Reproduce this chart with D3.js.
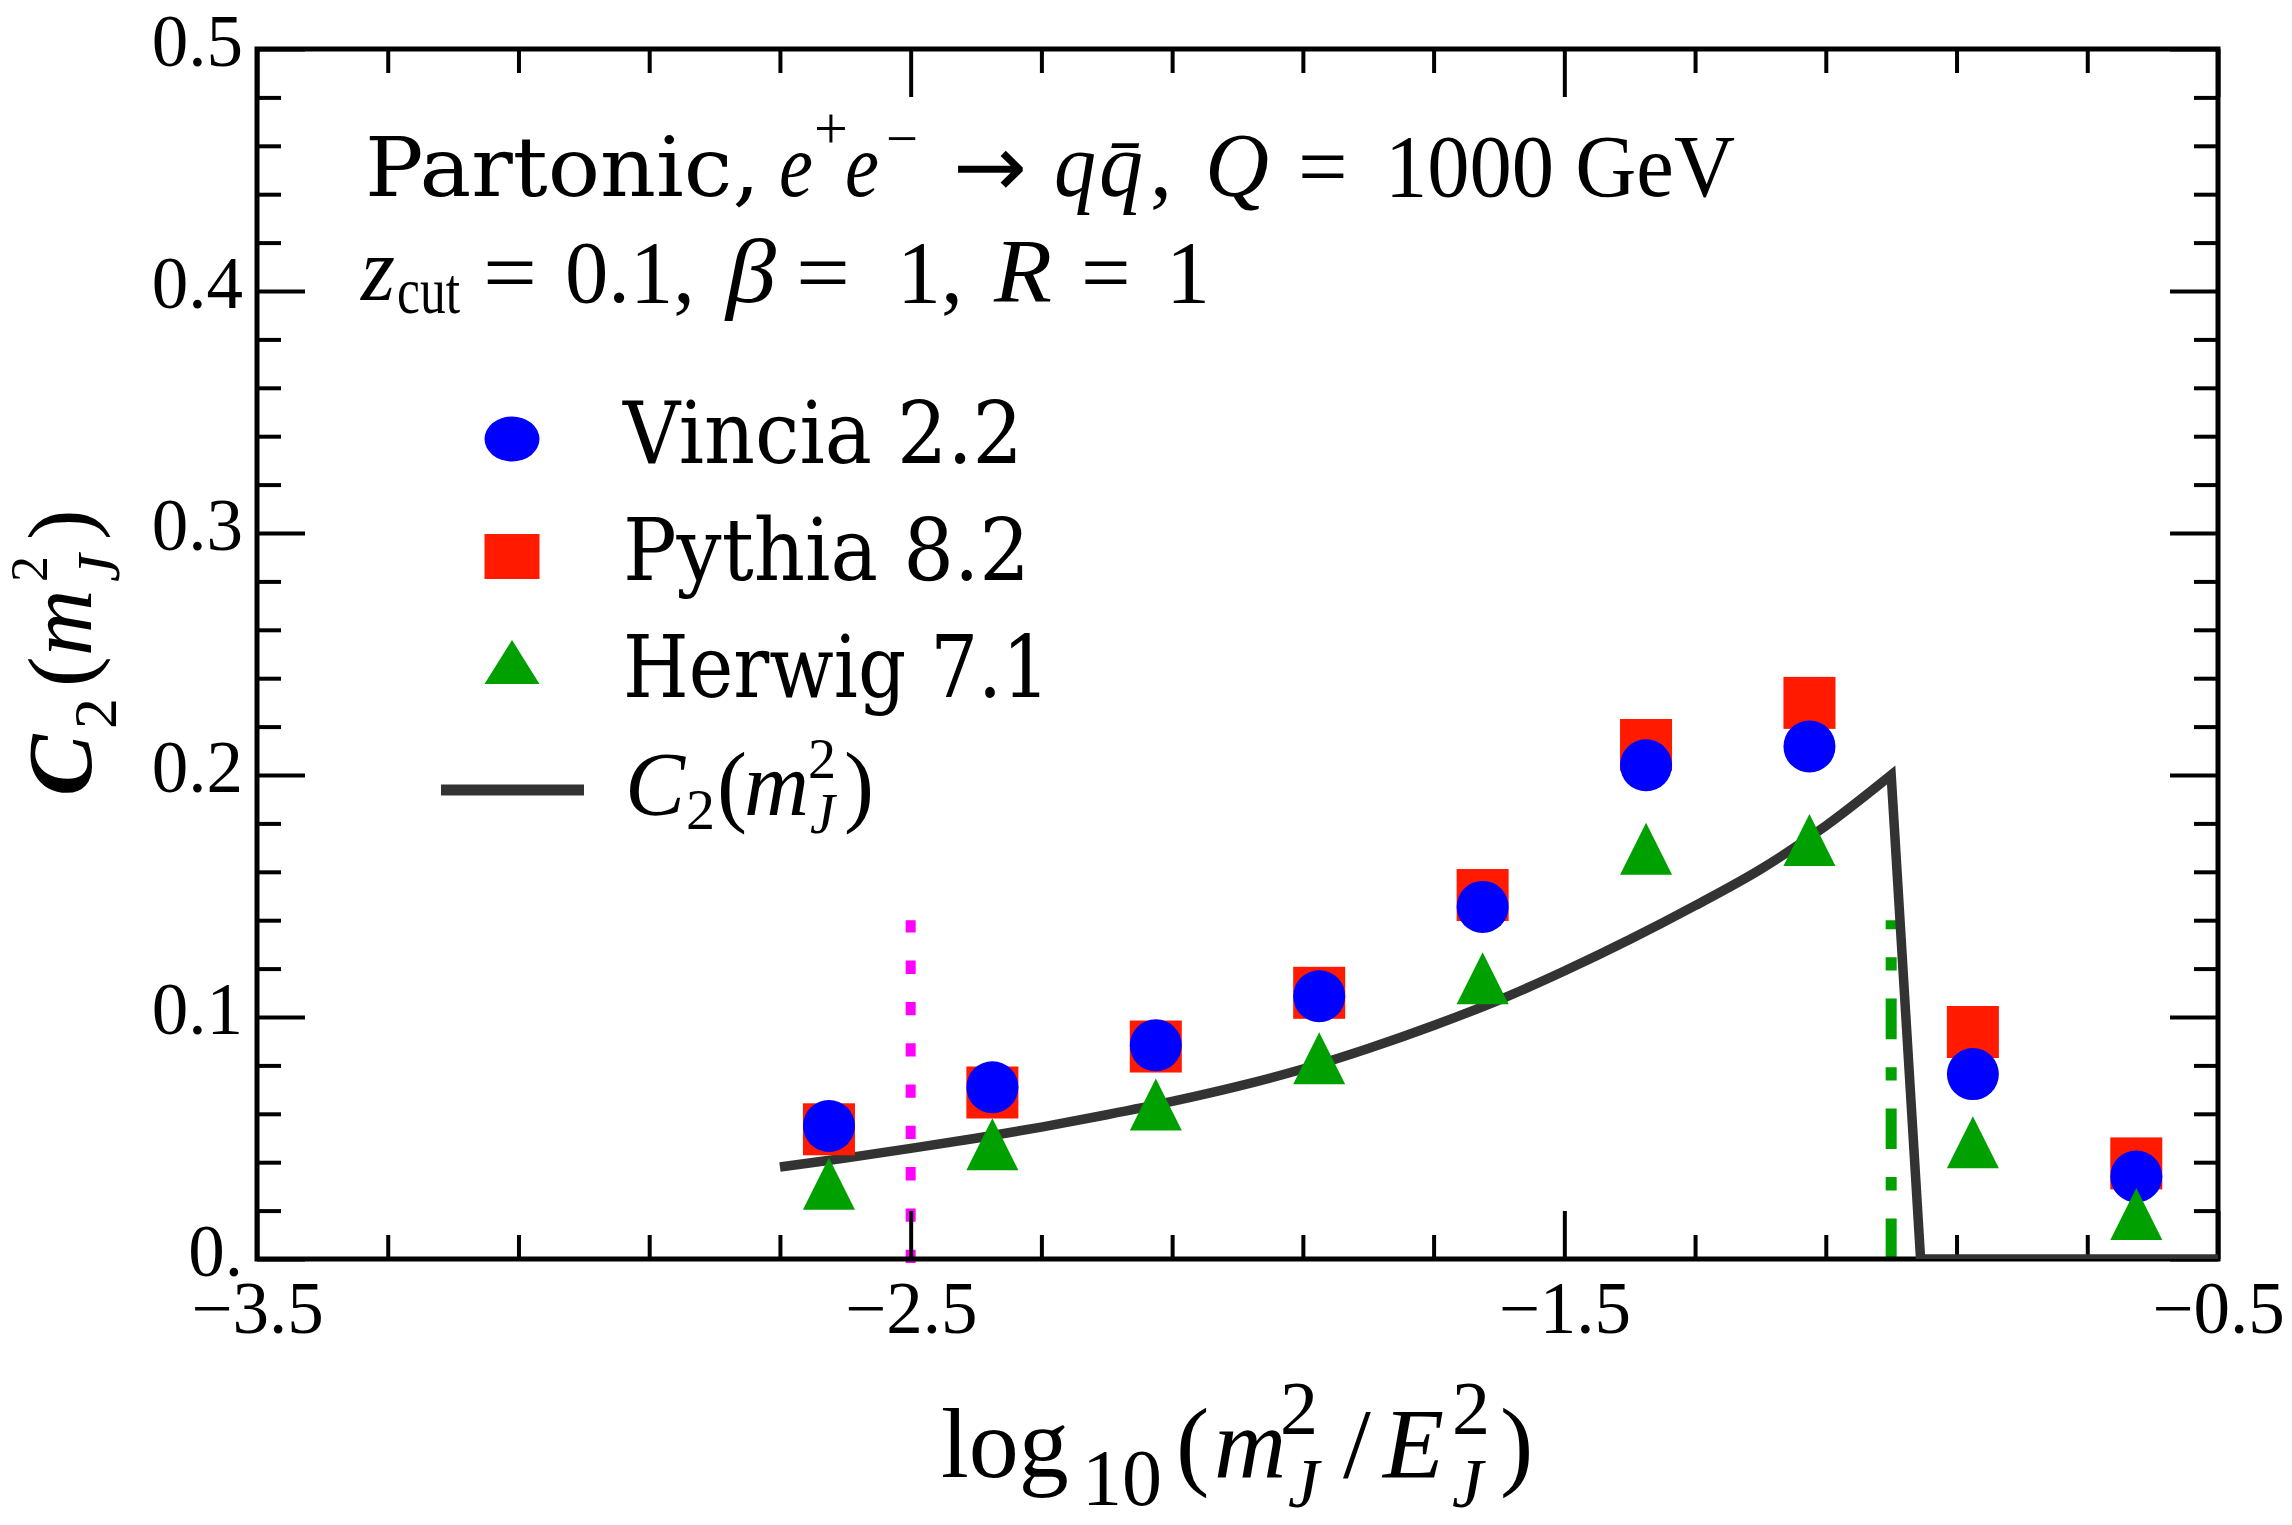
<!DOCTYPE html>
<html>
<head>
<meta charset="utf-8">
<script src="https://cdn.jsdelivr.net/npm/d3@7"></script>
<style>
  body { margin: 0; background: #fff; }
  svg text { font-family: "Liberation Serif", "Times New Roman", serif; fill: #000; }
</style>
</head>
<body>
<div id="chart"></div>
<script>
// bin centres of log10(m_J^2/E_J^2)
const binCenters = [-2.625, -2.375, -2.125, -1.875, -1.625, -1.375, -1.125, -0.875, -0.625];
const vincia = [0.0550, 0.0710, 0.0883, 0.1086, 0.1455, 0.2040, 0.2118, 0.0764, 0.0341];
const pythia = [0.0536, 0.0688, 0.0878, 0.1100, 0.1504, 0.2124, 0.2298, 0.0938, 0.0395];
const herwig = [0.0311, 0.0474, 0.0638, 0.0830, 0.1160, 0.1695, 0.1731, 0.0482, 0.0186];

// analytic C2 curve (rising part, then the drop to zero)
const curveX = [-2.7, -2.6, -2.5, -2.4, -2.3, -2.2, -2.1, -2.0, -1.9, -1.8, -1.7, -1.6,
                -1.5, -1.4, -1.3, -1.2, -1.1, -1.0];
const curveY = [0.038, 0.0417, 0.0457, 0.0499, 0.0545, 0.0596, 0.0651, 0.0713, 0.0785, 0.0870, 0.0965, 0.1070,
                0.119, 0.132, 0.146, 0.161, 0.179, 0.200];
const dropX = [-1.0, -0.955, -0.5];
const dropY = [0.200, 0.0, 0.0];

// vertical reference lines
const refX = [-2.5, -1.0];
const refTop = [0.14, 0.14];

const xMajor = [-3.5, -2.5, -1.5, -0.5];
const xMajorLabels = ["\u22123.5", "\u22122.5", "\u22121.5", "\u22120.5"];
const xMinor = [-3.3, -3.1, -2.9, -2.7, -2.3, -2.1, -1.9, -1.7, -1.3, -1.1, -0.9, -0.7];
const yMajor = [0, 0.1, 0.2, 0.3, 0.4, 0.5];
const yMajorLabels = ["0.", "0.1", "0.2", "0.3", "0.4", "0.5"];
const yMinor = [0.02, 0.04, 0.06, 0.08, 0.12, 0.14, 0.16, 0.18, 0.22, 0.24, 0.26, 0.28,
                0.32, 0.34, 0.36, 0.38, 0.42, 0.44, 0.46, 0.48];

const legendNames = ["Vincia 2.2", "Pythia 8.2", "Herwig 7.1"];

const W = 2292, H = 1525;
const pL = 257, pR = 2218, pT = 49, pB = 1259;
const BLUE = "#0000ff", RED = "#ff1a00", GREEN = "#00a000", MAGENTA = "#ff00ff", CURVE = "#333333";

const svg = d3.select("#chart").append("svg")
    .attr("width", W).attr("height", H)
    .style("display", "block");
svg.append("rect").attr("width", W).attr("height", H).attr("fill", "#fff");

const x = d3.scaleLinear().domain([-3.5, -0.5]).range([pL, pR]);
const y = d3.scaleLinear().domain([0, 0.5]).range([pB, pT]);

// reference lines (drawn first, ticks go over them)
svg.append("line")
    .attr("x1", x(refX[0])).attr("x2", x(refX[0]))
    .attr("y1", y(0) + 4).attr("y2", y(refTop[0]))
    .attr("stroke", MAGENTA).attr("stroke-width", 10)
    .attr("stroke-dasharray", "13.3,28");
svg.append("line")
    .attr("x1", x(refX[1])).attr("x2", x(refX[1]))
    .attr("y1", y(0)).attr("y2", y(refTop[1]))
    .attr("stroke", GREEN).attr("stroke-width", 11)
    .attr("stroke-dasharray", "40.6,28,13.3,28");

// axes, all four sides with inward ticks
function styleAxis(g) {
    g.select(".domain").remove();
    g.selectAll(".tick line").attr("stroke", "#000").attr("stroke-width", 4);
    g.selectAll("text").style("font-family", "'Liberation Serif', 'Times New Roman', serif")
        .style("font-size", "73px").attr("fill", "#000");
}
function addAxis(axisFn, scale, values, labels, size, transform, padding) {
    const ax = axisFn(scale).tickValues(values).tickSize(-size).tickPadding(padding || 0)
        .tickFormat(labels ? ((d, i) => labels[i]) : () => "");
    const g = svg.append("g").attr("transform", transform).call(ax);
    styleAxis(g);
    return g;
}
addAxis(d3.axisBottom, x, xMajor, xMajorLabels, 48, `translate(0,${pB})`, 22);
addAxis(d3.axisBottom, x, xMinor, null, 24, `translate(0,${pB})`);
addAxis(d3.axisTop, x, xMajor, null, 48, `translate(0,${pT})`);
addAxis(d3.axisTop, x, xMinor, null, 24, `translate(0,${pT})`);
const gy = addAxis(d3.axisLeft, y, yMajor, yMajorLabels, 48, `translate(${pL},0)`, 14);
addAxis(d3.axisLeft, y, yMinor, null, 24, `translate(${pL},0)`);
addAxis(d3.axisRight, y, yMajor, null, 48, `translate(${pR},0)`);
addAxis(d3.axisRight, y, yMinor, null, 24, `translate(${pR},0)`);
gy.selectAll("text").attr("dy", "0.23em");

svg.append("rect")
    .attr("x", pL).attr("y", pT)
    .attr("width", pR - pL).attr("height", pB - pT)
    .attr("fill", "none").attr("stroke", "#000").attr("stroke-width", 5);

// curve, clipped to plot region: smooth rise + straight drop in one path
svg.append("clipPath").attr("id", "plotclip").append("rect")
    .attr("x", pL).attr("y", pT).attr("width", pR - pL).attr("height", pB - pT);
const riseLine = d3.line().curve(d3.curveCatmullRom.alpha(0.5)).x(d => x(d[0])).y(d => y(d[1]));
const dropLine = d3.line().x(d => x(d[0])).y(d => y(d[1]));
const curvePath = riseLine(d3.zip(curveX, curveY)) +
    dropLine(d3.zip(dropX, dropY).slice(1)).replace(/^M/, "L");
svg.append("path")
    .attr("clip-path", "url(#plotclip)")
    .attr("d", curvePath)
    .attr("fill", "none").attr("stroke", CURVE).attr("stroke-width", 9.5)
    .attr("stroke-linejoin", "miter").attr("stroke-miterlimit", 20);

// markers: squares, then circles, then triangles
const M = 52;
const tri = (cx, cy, w, h) => `M${cx},${cy - h / 2}L${cx + w / 2},${cy + h / 2}L${cx - w / 2},${cy + h / 2}Z`;
svg.append("g").selectAll("rect").data(d3.zip(binCenters, pythia)).join("rect")
    .attr("x", d => x(d[0]) - M / 2).attr("y", d => y(d[1]) - M / 2)
    .attr("width", M).attr("height", M).attr("fill", RED);
svg.append("g").selectAll("circle").data(d3.zip(binCenters, vincia)).join("circle")
    .attr("cx", d => x(d[0])).attr("cy", d => y(d[1])).attr("r", M / 2).attr("fill", BLUE);
svg.append("g").selectAll("path").data(d3.zip(binCenters, herwig)).join("path")
    .attr("d", d => tri(x(d[0]), y(d[1]), M, M)).attr("fill", GREEN);

// small helper for text pieces with explicit positions
function pieces(g, items) {
    items.forEach(it => {
        const t = g.append("text")
            .attr("x", it.x).attr("y", it.y || 0)
            .style("font-size", it.size + "px")
            .text(it.t);
        if (it.italic) t.style("font-style", "italic");
        if (it.bold) t.style("font-weight", "bold");
        if (it.family) t.style("font-family", it.family);
        if (it.len) t.attr("textLength", it.len).attr("lengthAdjust", "spacingAndGlyphs");
    });
}
const SCHOOL = "'DejaVu Serif', serif";

// annotation
const ann = svg.append("g");
pieces(ann, [
    { t: "Partonic,", x: 365, y: 196, size: 82, family: SCHOOL, len: 395 },
    { t: "e", x: 779, y: 196, size: 92, italic: true, len: 34 },
    { t: "+", x: 814, y: 148, size: 60 },
    { t: "e", x: 845, y: 196, size: 92, italic: true, len: 34 },
    { t: "\u2212", x: 886, y: 158, size: 58, len: 32 },
    { t: "\u2192", x: 953, y: 196, size: 86, family: "'DejaVu Sans', sans-serif", len: 74 },
    { t: "q", x: 1054, y: 196, size: 92, italic: true, len: 42 },
    { t: "q\u0304", x: 1099, y: 196, size: 92, italic: true, len: 44 },
    { t: ",", x: 1150, y: 196, size: 88 },
    { t: "Q", x: 1205, y: 196, size: 92, italic: true, len: 64 },
    { t: "=", x: 1298, y: 196, size: 88 },
    { t: "1000 GeV", x: 1385, y: 196, size: 88, len: 350 },
    { t: "z", x: 361, y: 300, size: 92, italic: true, len: 34 },
    { t: "cut", x: 397, y: 313, size: 66, len: 63 },
    { t: "=", x: 483, y: 302, size: 88, len: 54 },
    { t: "0.1,", x: 565, y: 302, size: 88, len: 130 },
    { t: "\u03b2", x: 726, y: 302, size: 92, italic: true, len: 50 },
    { t: "=", x: 796, y: 302, size: 88, len: 54 },
    { t: "1,", x: 897, y: 302, size: 88 },
    { t: "R", x: 994, y: 302, size: 92, italic: true, len: 58 },
    { t: "=", x: 1081, y: 302, size: 88 },
    { t: "1", x: 1166, y: 302, size: 88 }
]);

// legend
const lg = svg.append("g");
const lgX = 512;
lg.append("ellipse").attr("cx", lgX).attr("cy", 439).attr("rx", 27.5).attr("ry", 22.5).attr("fill", BLUE);
lg.append("rect").attr("x", lgX - 27.5).attr("y", 534).attr("width", 55).attr("height", 45).attr("fill", RED);
lg.append("path").attr("d", tri(lgX, 662, 55, 44)).attr("fill", GREEN);
lg.append("line").attr("x1", 441).attr("x2", 584).attr("y1", 790).attr("y2", 790)
    .attr("stroke", CURVE).attr("stroke-width", 11);
const legendBase = [463, 580, 697];
const legendLen = [400, 407, 427];
legendNames.forEach((n, i) => {
    pieces(lg, [{ t: n, x: 623, y: legendBase[i], size: 86, family: SCHOOL, len: legendLen[i] }]);
});
const lgm = lg.append("g").attr("transform", "translate(625,815)");
pieces(lgm, [
    { t: "C", x: 0, y: 0, size: 90, italic: true },
    { t: "2", x: 61, y: 14, size: 58 },
    { t: "(", x: 92, y: 0, size: 90 },
    { t: "m", x: 119, y: 0, size: 90, italic: true },
    { t: "2", x: 183, y: -37, size: 56 },
    { t: "J", x: 185, y: 18, size: 56, italic: true },
    { t: ")", x: 219, y: 0, size: 90 }
]);

// x axis title
const xt = svg.append("g").attr("transform", "translate(941,1477)");
pieces(xt, [
    { t: "log", x: 0, y: 0, size: 100 },
    { t: "10", x: 141, y: 28, size: 80 },
    { t: "(", x: 235, y: 0, size: 100 },
    { t: "m", x: 273, y: 0, size: 100, italic: true },
    { t: "2", x: 339, y: -43, size: 76 },
    { t: "J", x: 347, y: 30, size: 70, italic: true },
    { t: "/", x: 402, y: 0, size: 100 },
    { t: "E", x: 442, y: 0, size: 100, italic: true },
    { t: "2", x: 511, y: -43, size: 76 },
    { t: "J", x: 511, y: 30, size: 70, italic: true },
    { t: ")", x: 559, y: 0, size: 100 }
]);

// y axis title (rotated)
const yt = svg.append("g").attr("transform", "translate(91,796) rotate(-90)");
pieces(yt, [
    { t: "C", x: 0, y: 0, size: 92, italic: true, bold: true },
    { t: "2", x: 67, y: 25, size: 62 },
    { t: "(", x: 109, y: 0, size: 92 },
    { t: "m", x: 140, y: 0, size: 92, italic: true },
    { t: "2", x: 214, y: -44, size: 52 },
    { t: "J", x: 214, y: 28, size: 62, italic: true },
    { t: ")", x: 256, y: 0, size: 92 }
]);
</script>
</body>
</html>
